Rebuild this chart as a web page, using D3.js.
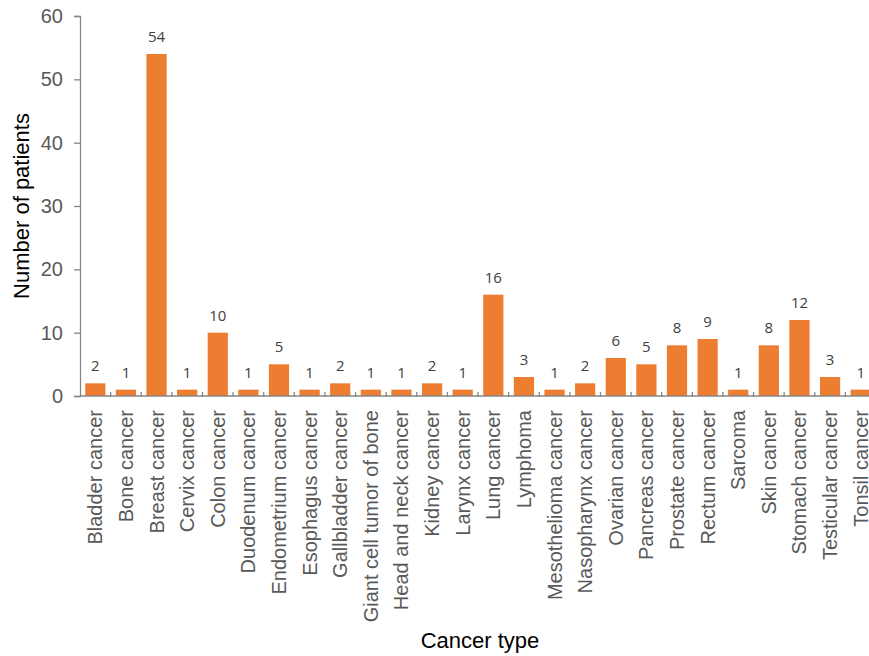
<!DOCTYPE html>
<html>
<head>
<meta charset="utf-8">
<script src="https://cdn.jsdelivr.net/npm/d3@7"></script>
<style>
  body { margin: 0; background: #fff; }
  text { font-family: "Liberation Sans", Arial, sans-serif; }
</style>
</head>
<body>
<div id="chart"></div>
<script>
const categories = ['Bladder cancer', 'Bone cancer', 'Breast cancer', 'Cervix cancer', 'Colon cancer',
  'Duodenum cancer', 'Endometrium cancer', 'Esophagus cancer', 'Gallbladder cancer',
  'Giant cell tumor of bone', 'Head and neck cancer', 'Kidney cancer', 'Larynx cancer',
  'Lung cancer', 'Lymphoma', 'Mesothelioma cancer', 'Nasopharynx cancer', 'Ovarian cancer',
  'Pancreas cancer', 'Prostate cancer', 'Rectum cancer', 'Sarcoma', 'Skin cancer',
  'Stomach cancer', 'Testicular cancer', 'Tonsil cancer'];
const patients = [2, 1, 54, 1, 10, 1, 5, 1, 2, 1, 1, 2, 1, 16, 3, 1, 2, 6, 5, 8, 9, 1, 8, 12, 3, 1];
const yTicks = [0, 10, 20, 30, 40, 50, 60];

const width = 869, height = 656;
const margin = {top: 16, right: -7, bottom: 260, left: 80};

const svg = d3.select('#chart').append('svg')
  .attr('width', width)
  .attr('height', height);

const x = d3.scaleBand()
  .domain(categories)
  .range([margin.left, width - margin.right])
  .paddingInner(0.34)
  .paddingOuter(0.17);

const y = d3.scaleLinear()
  .domain([0, 60])
  .range([height - margin.bottom, margin.top]);

// y axis
const yAxis = svg.append('g')
  .attr('transform', `translate(${margin.left},0)`)
  .call(d3.axisLeft(y).tickValues(yTicks).tickSize(6).tickPadding(11));
yAxis.select('.domain').attr('stroke', '#868686').attr('stroke-width', 1.3);
yAxis.selectAll('line').attr('stroke', '#868686').attr('stroke-width', 1.3);
yAxis.selectAll('text').attr('fill', '#595959').style('font-size', '20px');

// bars
svg.selectAll('rect.bar')
  .data(patients)
  .enter()
  .append('rect')
  .attr('class', 'bar')
  .attr('x', (d, i) => x(categories[i]))
  .attr('y', d => y(d))
  .attr('width', x.bandwidth())
  .attr('height', d => y(0) - y(d))
  .attr('fill', '#ED7D31');

// value labels
svg.selectAll('text.val')
  .data(patients)
  .enter()
  .append('text')
  .attr('class', 'val')
  .attr('x', (d, i) => x(categories[i]) + x.bandwidth() / 2)
  .attr('y', d => y(d) - 12)
  .attr('text-anchor', 'middle')
  .attr('fill', '#404040')
  .style('font-family', '"Open Sans", sans-serif')
  .style('font-size', '15px')
  .text(d => d);

// x axis line and boundary ticks
const x0 = margin.left;
const gap = x.step() - x.bandwidth();
svg.append('line')
  .attr('x1', x0).attr('x2', width)
  .attr('y1', y(0)).attr('y2', y(0))
  .attr('stroke', '#868686').attr('stroke-width', 1.3);

svg.selectAll('line.xtick')
  .data(categories.slice(1))
  .enter()
  .append('line')
  .attr('class', 'xtick')
  .attr('x1', d => x(d) - gap / 2)
  .attr('x2', d => x(d) - gap / 2)
  .attr('y1', y(0) - 4).attr('y2', y(0) + 1)
  .attr('stroke', '#868686').attr('stroke-width', 1.3);

// x labels
svg.selectAll('text.xlab')
  .data(categories)
  .enter()
  .append('text')
  .attr('class', 'xlab')
  .attr('transform', d => `translate(${x(d) + x.bandwidth() / 2},${y(0) + 14}) rotate(-90)`)
  .attr('text-anchor', 'end')
  .attr('dy', '0.35em')
  .attr('fill', '#595959')
  .style('font-size', '20px')
  .text(d => d);

// axis titles
svg.append('text')
  .attr('transform', `translate(29,${(y(0) + y(60)) / 2}) rotate(-90)`)
  .attr('text-anchor', 'middle')
  .attr('fill', '#000')
  .style('font-size', '22px')
  .text('Number of patients');

svg.append('text')
  .attr('x', 480)
  .attr('y', 648)
  .attr('text-anchor', 'middle')
  .attr('fill', '#000')
  .style('font-size', '22px')
  .text('Cancer type');
</script>
</body>
</html>
